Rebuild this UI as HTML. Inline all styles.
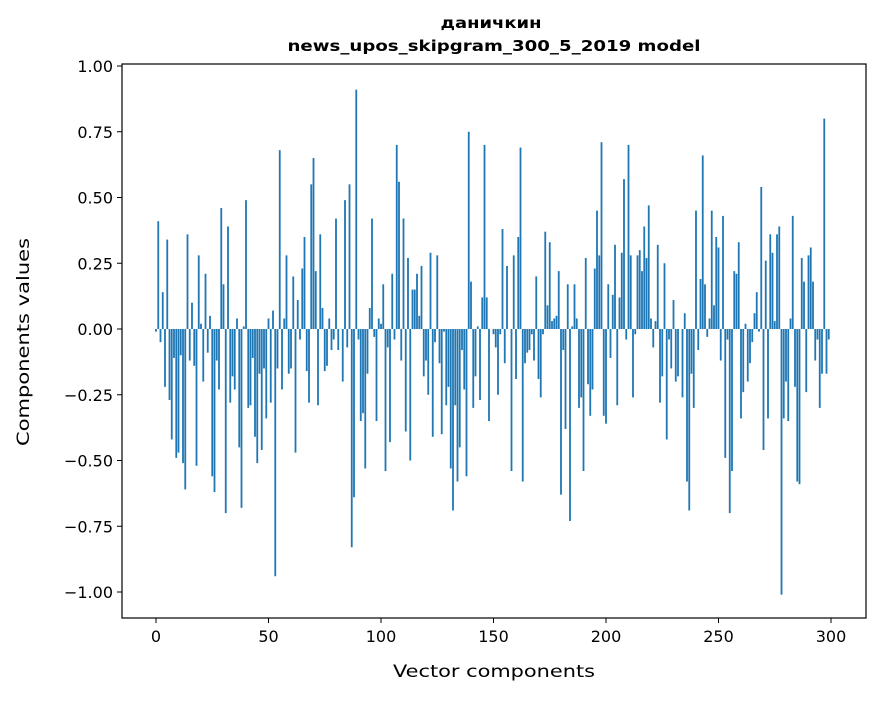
<!DOCTYPE html>
<html><head><meta charset="utf-8"><style>
body{margin:0;background:#fff;}
svg text{font-family:"DejaVu Sans","Liberation Sans",sans-serif;fill:#000;}
</style></head><body>
<svg id="chart" width="880" height="696" xmlns="http://www.w3.org/2000/svg">
<rect width="880" height="696" fill="#fff"/>
<text x="491" y="28" text-anchor="middle" font-size="15" font-weight="bold" textLength="101" lengthAdjust="spacingAndGlyphs">даничкин</text>
<text x="494" y="51" text-anchor="middle" font-size="15" font-weight="bold" textLength="413" lengthAdjust="spacingAndGlyphs">news_upos_skipgram_300_5_2019 model</text>
<g id="bars"></g>
<g id="axes"></g>
<text x="494" y="677" text-anchor="middle" font-size="17" textLength="202" lengthAdjust="spacingAndGlyphs">Vector components</text>
<text transform="translate(29,342) rotate(-90)" text-anchor="middle" font-size="17" textLength="208" lengthAdjust="spacingAndGlyphs">Components values</text>
</svg>
<script>
const values = [-0.01,0.41,-0.05,0.14,-0.22,0.34,-0.27,-0.42,-0.11,-0.49,
-0.47,-0.10,-0.51,-0.61,0.36,-0.12,0.10,-0.14,-0.52,0.28,
0.02,-0.20,0.21,-0.09,0.05,-0.56,-0.62,-0.12,-0.23,0.46,
0.17,-0.70,0.39,-0.28,-0.18,-0.23,0.04,-0.45,-0.68,0.01,
0.49,-0.30,-0.29,-0.11,-0.41,-0.51,-0.17,-0.46,-0.15,-0.34,
0.04,-0.28,0.07,-0.94,-0.15,0.68,-0.23,0.04,0.28,-0.17,
-0.15,0.20,-0.47,0.11,-0.04,0.23,0.35,-0.16,-0.28,0.55,
0.65,0.22,-0.29,0.36,0.08,-0.16,-0.14,0.04,-0.08,-0.04,
0.42,-0.08,0,-0.20,0.49,-0.07,0.55,-0.83,-0.64,0.91,
-0.04,-0.35,-0.32,-0.53,-0.17,0.08,0.42,-0.03,-0.35,0.04,
0.02,0.17,-0.54,-0.07,-0.43,0.21,-0.04,0.70,0.56,-0.12,
0.42,-0.39,0.27,-0.50,0.15,0.15,0.21,0.05,0.24,-0.18,
-0.12,-0.25,0.29,-0.41,-0.05,0.28,-0.13,-0.40,-0.01,-0.29,
-0.22,-0.53,-0.69,-0.29,-0.58,-0.45,-0.08,-0.23,-0.56,0.75,
0.18,-0.30,-0.18,0.01,-0.27,0.12,0.70,0.12,-0.35,0,
-0.02,-0.07,-0.25,-0.02,0.38,-0.13,0.24,0,-0.54,0.28,
-0.19,0.35,0.69,-0.58,-0.13,-0.09,-0.08,-0.02,-0.12,0.20,
-0.19,-0.26,-0.02,0.37,0.09,0.33,0.03,0.04,0.05,0.22,
-0.63,-0.08,-0.38,0.17,-0.73,0.01,0.17,0.04,-0.30,-0.26,
-0.54,0.27,-0.21,-0.33,-0.23,0.23,0.45,0.28,0.71,-0.33,
-0.36,0.17,-0.11,0.13,0.32,-0.29,0.12,0.29,0.57,-0.04,
0.70,0.28,-0.26,-0.02,0.28,0.30,0.22,0.39,0.27,0.47,
0.04,-0.07,0.03,0.32,-0.28,-0.18,0.25,-0.42,-0.04,-0.15,
0.11,-0.20,-0.18,0.00,-0.26,0.06,-0.58,-0.69,-0.17,-0.30,
0.45,-0.08,0.19,0.66,0.17,-0.03,0.04,0.45,0.09,0.35,
0.31,-0.12,0.43,-0.49,-0.04,-0.70,-0.54,0.22,0.21,0.33,
-0.34,-0.24,0.02,-0.20,-0.13,-0.05,0.06,0.14,-0.01,0.54,
-0.46,0.26,-0.34,0.36,0.29,0.03,0.36,0.39,-1.01,-0.34,
-0.20,-0.35,0.04,0.43,-0.22,-0.58,-0.59,0.27,0.18,-0.24,
0.28,0.31,0.18,-0.12,-0.04,-0.30,-0.17,0.80,-0.17,-0.04];
const xTicks = [0,50,100,150,200,250,300];
const yTicks = [-1.00,-0.75,-0.50,-0.25,0.00,0.25,0.50,0.75,1.00];

const NS="http://www.w3.org/2000/svg";
const L=122,R=866,T=64,B=618;
function xs(v){return 156+v*2.25;}
function ys(v){return 329-v*263;}
const bars=document.getElementById('bars');
values.forEach((v,i)=>{
  const r=document.createElementNS(NS,'rect');
  const y0=ys(0),y1=ys(v);
  r.setAttribute('x',xs(i)-0.9);
  r.setAttribute('width',1.8);
  r.setAttribute('y',Math.min(y0,y1));
  r.setAttribute('height',Math.max(Math.abs(y1-y0),0.01));
  r.setAttribute('fill','#1f77b4');
  
  
  bars.appendChild(r);
});
const axes=document.getElementById('axes');
const frame=document.createElementNS(NS,'rect');
frame.setAttribute('x',L);frame.setAttribute('y',T);
frame.setAttribute('width',R-L);frame.setAttribute('height',B-T);
frame.setAttribute('fill','none');frame.setAttribute('stroke','#000');frame.setAttribute('stroke-width','1.2');


axes.appendChild(frame);
xTicks.forEach(t=>{
  const x=xs(t);
  const ln=document.createElementNS(NS,'line');
  ln.setAttribute('x1',x);ln.setAttribute('x2',x);ln.setAttribute('y1',B);ln.setAttribute('y2',B+5);
  ln.setAttribute('stroke','#000');
  
  
  axes.appendChild(ln);
  const tx=document.createElementNS(NS,'text');
  tx.setAttribute('x',x);tx.setAttribute('y',B+24);tx.setAttribute('text-anchor','middle');tx.setAttribute('font-size','16');
  tx.textContent=t;
  
  
  axes.appendChild(tx);
});
yTicks.forEach(t=>{
  const y=ys(t);
  const ln=document.createElementNS(NS,'line');
  ln.setAttribute('x1',L-5);ln.setAttribute('x2',L);ln.setAttribute('y1',y);ln.setAttribute('y2',y);
  ln.setAttribute('stroke','#000');
  
  
  axes.appendChild(ln);
  const tx=document.createElementNS(NS,'text');
  tx.setAttribute('x',L-9);tx.setAttribute('y',y+6);tx.setAttribute('text-anchor','end');tx.setAttribute('font-size','16');
  tx.textContent=(t<0?'\u2212':'')+Math.abs(t).toFixed(2);
  
  
  axes.appendChild(tx);
});
</script>
</body></html>
